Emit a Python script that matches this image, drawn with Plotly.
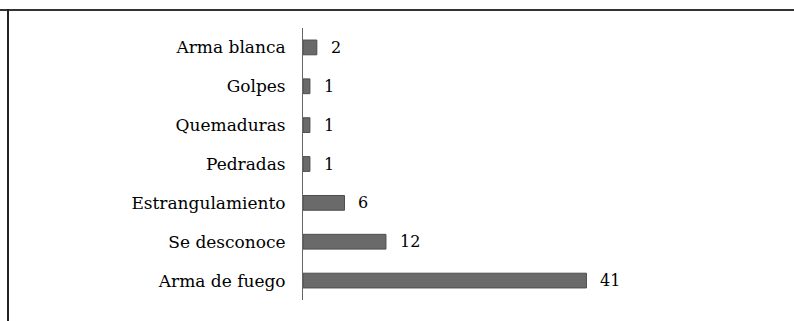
import plotly.graph_objects as go

categories = ["Arma de fuego", "Se desconoce", "Estrangulamiento", "Pedradas",
              "Quemaduras", "Golpes", "Arma blanca"]
values = [41, 12, 6, 1, 1, 1, 2]

FONT = "DejaVu Serif"
PW = 794 - 303 - 14
PH = 321 - 28 - 21

fig = go.Figure()
fig.add_trace(go.Bar(
    y=categories, x=values, orientation="h",
    marker=dict(color="#6a6a6a", line=dict(color="#4d4d4d", width=1)),
    width=0.38,
    hoverinfo="skip",
))

for c, v in zip(categories, values):
    fig.add_annotation(x=v, y=c, text=str(v), showarrow=False,
                       xanchor="left", xshift=12,
                       font=dict(family=FONT, size=16, color="#000000"))

fig.update_layout(
    width=794, height=321,
    margin=dict(l=303, r=14, t=28, b=21),
    paper_bgcolor="white", plot_bgcolor="white",
    showlegend=False,
    xaxis=dict(range=[0, 69], visible=False),
    yaxis=dict(categoryorder="array", categoryarray=categories,
               showline=True, linecolor="#666666", linewidth=1,
               ticks="", showgrid=False, ticklabelstandoff=13,
               tickfont=dict(family=FONT, size=17, color="#000000")),
    shapes=[
        dict(type="line", xref="paper", yref="paper", x0=-303/PW, x1=1 + 14/PW,
             y0=1 + 18/PH, y1=1 + 18/PH, line=dict(color="#333333", width=2)),
        dict(type="line", xref="paper", yref="paper", x0=-295/PW, x1=-295/PW,
             y0=1 + 19/PH, y1=-21/PH, line=dict(color="#222222", width=2)),
    ],
)

fig.write_html("out.html")
